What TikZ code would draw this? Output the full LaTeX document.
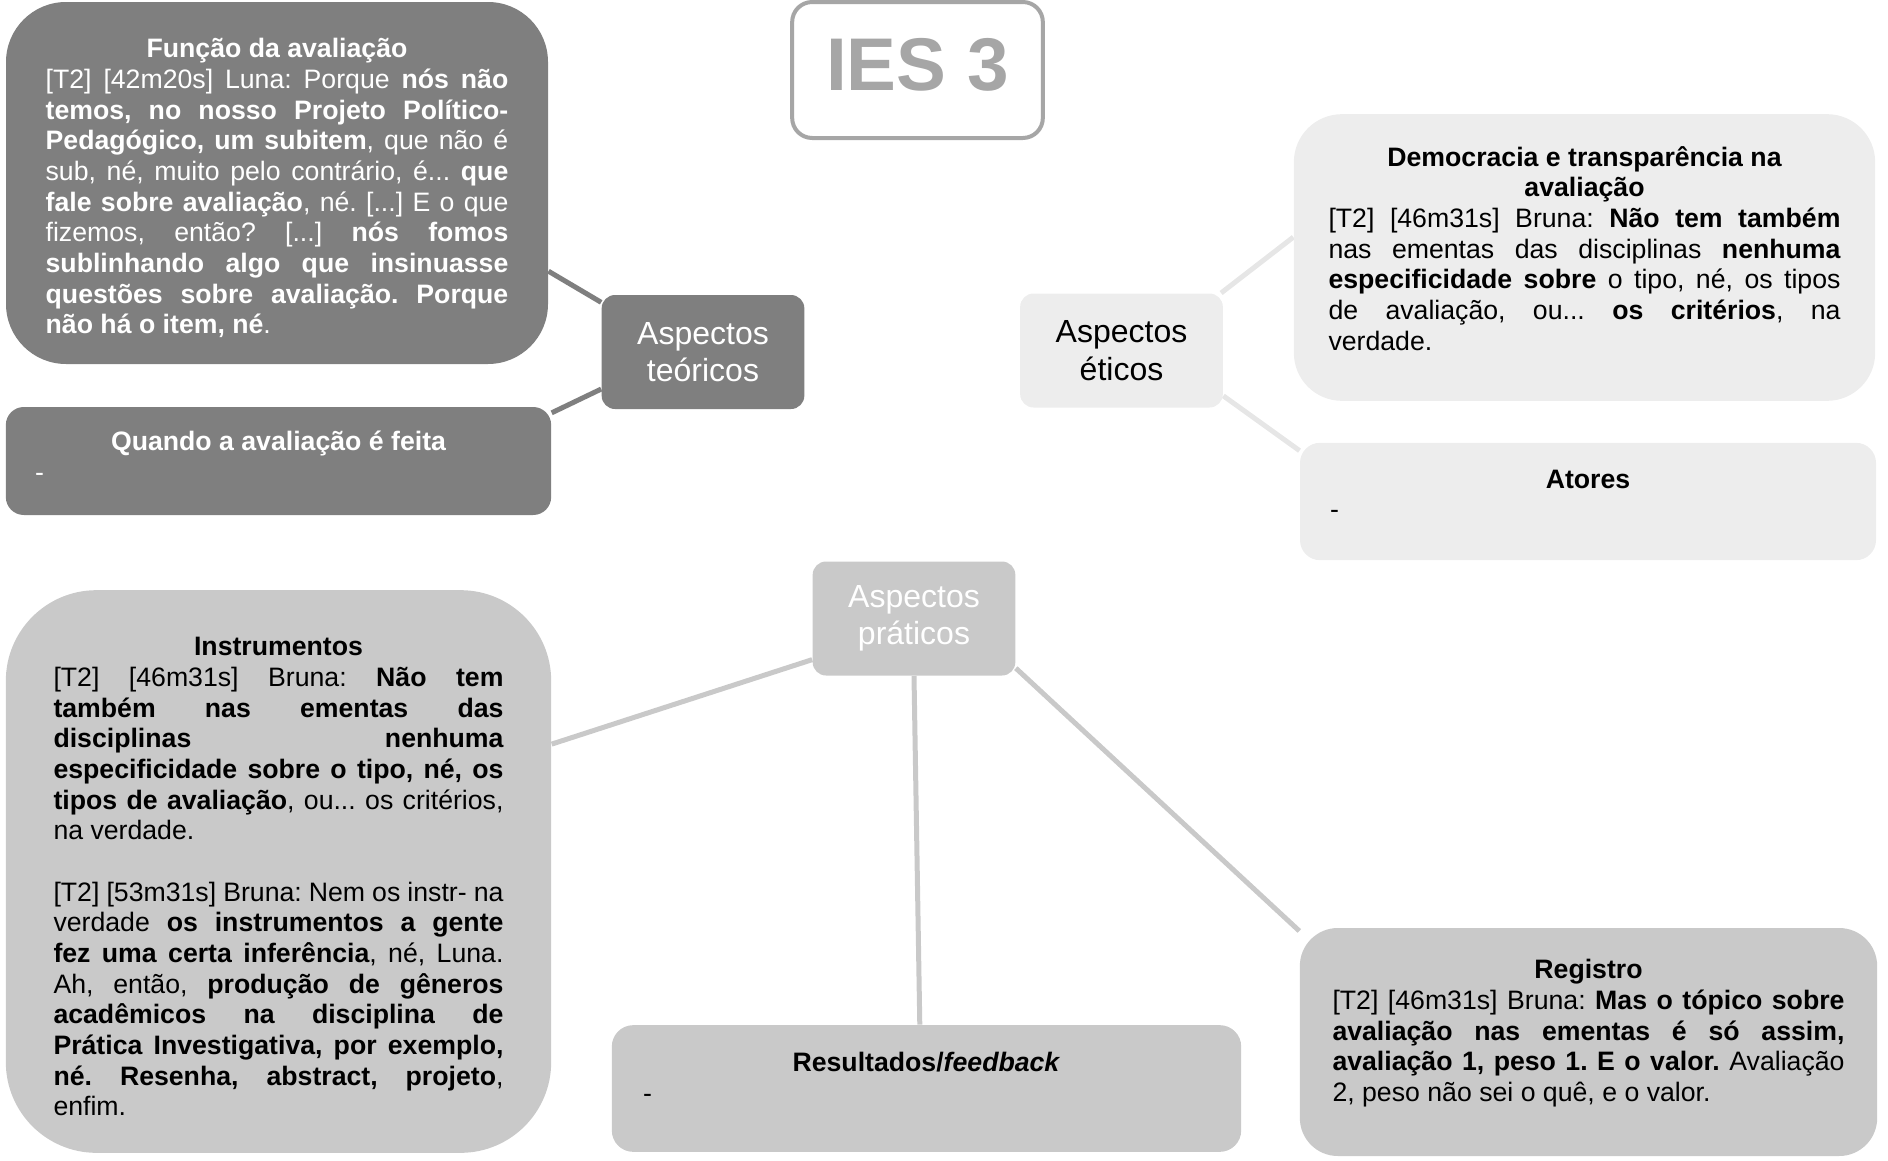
\documentclass[tikz,border=0pt]{standalone}
\usepackage{fontspec}
\setmainfont{Liberation Sans}
\usetikzlibrary{backgrounds}
\setlength{\parindent}{0pt}
\frenchspacing

\definecolor{teoGray}{HTML}{7F7F7F}
\definecolor{eticGray}{HTML}{EDEDED}
\definecolor{eticLine}{HTML}{E6E6E6}
\definecolor{pratGray}{HTML}{C9C9C9}
\definecolor{iesGray}{HTML}{A6A6A6}

\newcommand{\bodysize}{\fontsize{20}{23}\selectfont\frenchspacing}
\newcommand{\boxtitle}[1]{{\centering\bfseries #1\par}}

\tikzset{every picture/.style={line width=0.75pt}}
\tikzset{
  aspecto/.style={rectangle, rounded corners=10pt, minimum width=152pt, minimum height=85.5pt, align=center, font=\fontsize{24}{28}\selectfont},
  quote/.style={rectangle, inner sep=0pt, align=justify, font=\bodysize},
  textup/.style={execute at end node={\par\vspace*{#1}}},
  teobox/.style={fill=teoGray, text=white},
  eticbox/.style={fill=eticGray, text=black},
  pratbox/.style={fill=pratGray, text=black},
  conn/.style={line width=3.75pt},
}

\begin{document}
\begin{tikzpicture}[x=0.75pt,y=0.75pt,yscale=-1,xscale=1]
\useasboundingbox (0,0) rectangle (1888,1160);

% Title
\node [draw=iesGray, line width=3pt, rounded corners=15pt, minimum width=188pt, minimum height=102pt, text depth=8pt, fill=white, text=iesGray, font=\fontsize{56}{60}\selectfont\bfseries] (ies) at (917.5,70) {IES 3};

% Aspectos teoricos
\node [aspecto, teobox] (teo) at (703,352) {Aspectos\\teóricos};
\node [quote, teobox, textup=-8pt, rounded corners=45pt, minimum width=406.5pt, minimum height=271.5pt, text width=347pt] (funcao) at (277,183) {\boxtitle{Função da avaliação}
[T2] [42m20s] Luna: Porque \textbf{nós não\linebreak temos, no nosso Projeto Político-\linebreak Pedagógico, um subitem}, que não é\linebreak sub, né, muito pelo contrário, é... \textbf{que\linebreak fale sobre avaliação}, né. [...] E o que\linebreak fizemos, então? [...] \textbf{nós fomos\linebreak sublinhando algo que insinuasse\linebreak questões sobre avaliação. Porque\linebreak não há o item, né}.};
\node [quote, teobox, textup=7.5pt, rounded corners=13.5pt, minimum width=409pt, minimum height=81pt, text width=365pt] (quando) at (278.5,461) {\boxtitle{Quando a avaliação é feita}
-};

% Aspectos eticos
\node [aspecto, eticbox] (etic) at (1121.5,350.5) {Aspectos\\éticos};
\node [quote, eticbox, textup=13.5pt, rounded corners=36pt, minimum width=436pt, minimum height=215pt, text width=384pt] (demo) at (1584.5,257.5) {\boxtitle{Democracia e transparência na\\avaliação}
[T2] [46m31s] Bruna: \textbf{Não tem também}\linebreak nas ementas das disciplinas \textbf{nenhuma\linebreak especificidade sobre} o tipo, né, os tipos\linebreak de avaliação, ou... \textbf{os critérios}, na\linebreak verdade.};
\node [quote, eticbox, textup=11pt, rounded corners=15pt, minimum width=432pt, minimum height=88pt, text width=387pt] (atores) at (1588,501.5) {\boxtitle{Atores}
-};

% Aspectos praticos
\node [aspecto, pratbox, text=white] (prat) at (914,618.5) {Aspectos\\práticos};
\node [quote, pratbox, textup=-8pt, rounded corners=68pt, minimum width=409pt, minimum height=422pt, text width=337.5pt] (instr) at (278.5,871.5) {\boxtitle{Instrumentos}
[T2] [46m31s] Bruna: \textbf{Não tem\linebreak também nas ementas das\linebreak disciplinas nenhuma\linebreak especificidade sobre o tipo, né, os\linebreak tipos de avaliação}, ou... os critérios,\linebreak na verdade.\par\vspace{23pt}
[T2] [53m31s] Bruna: Nem os instr- na\linebreak verdade \textbf{os instrumentos a gente\linebreak fez uma certa inferência}, né, Luna.\linebreak Ah, então, \textbf{produção de gêneros\linebreak acadêmicos na disciplina de\linebreak Prática Investigativa, por exemplo,\linebreak né. Resenha, abstract, projeto},\linebreak enfim.};
\node [quote, pratbox, textup=17pt, rounded corners=16pt, minimum width=472pt, minimum height=95pt, text width=425pt] (result) at (926.5,1088.5) {\boxtitle{Resultados/\textit{feedback}}
-};
\node [quote, pratbox, textup=13pt, rounded corners=28.5pt, minimum width=433pt, minimum height=171pt, text width=384pt] (registro) at (1588.5,1042) {\boxtitle{Registro}
[T2] [46m31s] Bruna: \textbf{Mas o tópico sobre\linebreak avaliação nas ementas é só assim,\linebreak avaliação 1, peso 1. E o valor.} Avaliação\linebreak 2, peso não sei o quê, e o valor.};

% Connectors
\begin{scope}[on background layer]
\draw [conn, teoGray] (teo.154) -- (funcao.342);
\draw [conn, teoGray] (teo.200) -- (quando.10);
\draw [conn, eticLine] (etic.30) -- (demo.176);
\draw [conn, eticLine] (etic.336) -- (atores.170);
\draw [conn, pratGray] (prat.202) -- (instr.25);
\draw [conn, pratGray] (prat.south) -- (result.96);
\draw [conn, pratGray] (prat.334) -- (registro.159);
\end{scope}

\end{tikzpicture}
\end{document}
